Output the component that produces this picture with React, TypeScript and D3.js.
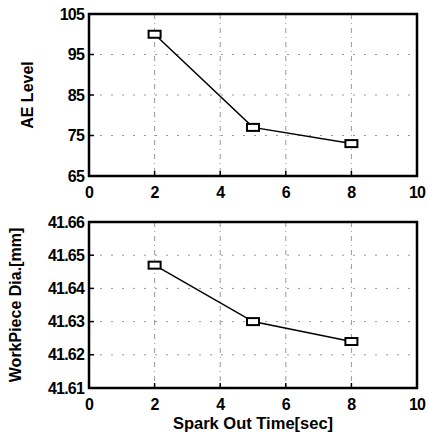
import React, { useEffect, useRef } from "react";
import * as d3 from "d3";

// data
const sparkOut = [2, 5, 8];
const aeLevel = [100, 77, 73];
const workDia = [41.647, 41.63, 41.624];

const xTicks = [0, 2, 4, 6, 8, 10];
const aeTicks = [65, 75, 85, 95, 105];
const diaTicks = [41.61, 41.62, 41.63, 41.64, 41.65, 41.66];

const W = 428;
const H = 435;
const left = 89;
const right = 417;

const App = () => {
  const svgRef = useRef<SVGSVGElement>(null);

  useEffect(() => {
    const svg = d3.select(svgRef.current);
    svg.selectAll("*").remove();

    const x = d3.scaleLinear().domain([0, 10]).range([left, right]);

    const panel = (
      top: number,
      bottom: number,
      domain: [number, number],
      yTicks: number[],
      values: number[],
      fmt: (d: number) => string,
      label: string,
      labelX: number
    ) => {
      const y = d3.scaleLinear().domain(domain).range([bottom, top]);
      const g = svg.append("g");

      // grid
      g.selectAll(".hg")
        .data(yTicks.slice(1, -1))
        .enter()
        .append("line")
        .attr("x1", left)
        .attr("x2", right)
        .attr("y1", (d) => y(d))
        .attr("y2", (d) => y(d))
        .attr("stroke", "#999")
        .attr("stroke-width", 1)
        .attr("stroke-dasharray", "2,9");

      g.selectAll(".vg")
        .data(xTicks.slice(1, -1))
        .enter()
        .append("line")
        .attr("x1", (d) => x(d))
        .attr("x2", (d) => x(d))
        .attr("y1", top)
        .attr("y2", bottom)
        .attr("stroke", "#999")
        .attr("stroke-width", 1)
        .attr("stroke-dasharray", "5,4,1,4");

      // inward ticks
      g.selectAll(".yt")
        .data(yTicks)
        .enter()
        .append("line")
        .attr("x1", left)
        .attr("x2", left + 5)
        .attr("y1", (d) => y(d))
        .attr("y2", (d) => y(d))
        .attr("stroke", "#000")
        .attr("stroke-width", 1.5);

      g.selectAll(".xt")
        .data(xTicks)
        .enter()
        .append("line")
        .attr("x1", (d) => x(d))
        .attr("x2", (d) => x(d))
        .attr("y1", bottom)
        .attr("y2", bottom - 5)
        .attr("stroke", "#000")
        .attr("stroke-width", 1.5);

      // frame
      g.append("rect")
        .attr("x", left)
        .attr("y", top)
        .attr("width", right - left)
        .attr("height", bottom - top)
        .attr("fill", "none")
        .attr("stroke", "#000")
        .attr("stroke-width", 2.5);

      // line + markers
      const pts = sparkOut.map((s, i) => [s, values[i]] as [number, number]);
      g.append("path")
        .datum(pts)
        .attr("fill", "none")
        .attr("stroke", "#000")
        .attr("stroke-width", 1.5)
        .attr(
          "d",
          d3
            .line<[number, number]>()
            .x((d) => x(d[0]))
            .y((d) => y(d[1]))
        );

      g.selectAll(".mk")
        .data(pts)
        .enter()
        .append("rect")
        .attr("x", (d) => x(d[0]) - 6)
        .attr("y", (d) => y(d[1]) - 3.5)
        .attr("width", 12)
        .attr("height", 7)
        .attr("fill", "#fff")
        .attr("stroke", "#000")
        .attr("stroke-width", 2);

      // tick labels
      g.selectAll(".yl")
        .data(yTicks)
        .enter()
        .append("text")
        .attr("x", left - 5)
        .attr("y", (d) => y(d) + 5.5)
        .attr("text-anchor", "end")
        .attr("font-size", 16)
        .attr("font-weight", "bold")
        .attr("letter-spacing", -0.8)
        .text((d) => fmt(d));

      g.selectAll(".xl")
        .data(xTicks)
        .enter()
        .append("text")
        .attr("x", (d) => x(d))
        .attr("y", bottom + 22)
        .attr("text-anchor", "middle")
        .attr("font-size", 16)
        .attr("font-weight", "bold")
        .attr("letter-spacing", -0.8)
        .text((d) => d);

      g.append("text")
        .attr(
          "transform",
          `translate(${labelX},${(top + bottom) / 2}) rotate(-90)`
        )
        .attr("text-anchor", "middle")
        .attr("font-size", 16)
        .attr("font-weight", "bold")
        .text(label);
    };

    panel(14, 176, [65, 105], aeTicks, aeLevel, (d) => String(d), "AE Level", 33);
    panel(
      222,
      388,
      [41.61, 41.66],
      diaTicks,
      workDia,
      (d) => d.toFixed(2),
      "WorkPiece Dia.[mm]",
      21
    );

    svg
      .append("text")
      .attr("x", (left + right) / 2)
      .attr("y", 429)
      .attr("text-anchor", "middle")
      .attr("font-size", 16.5)
      .attr("font-weight", "bold")
      .text("Spark Out Time[sec]");
  }, []);

  return (
    <svg
      ref={svgRef}
      width={W}
      height={H}
      style={{
        position: "absolute",
        left: 0,
        top: 0,
        background: "#fff",
        fontFamily: "Arial, 'Liberation Sans', sans-serif",
      }}
    ></svg>
  );
};

export default App;
